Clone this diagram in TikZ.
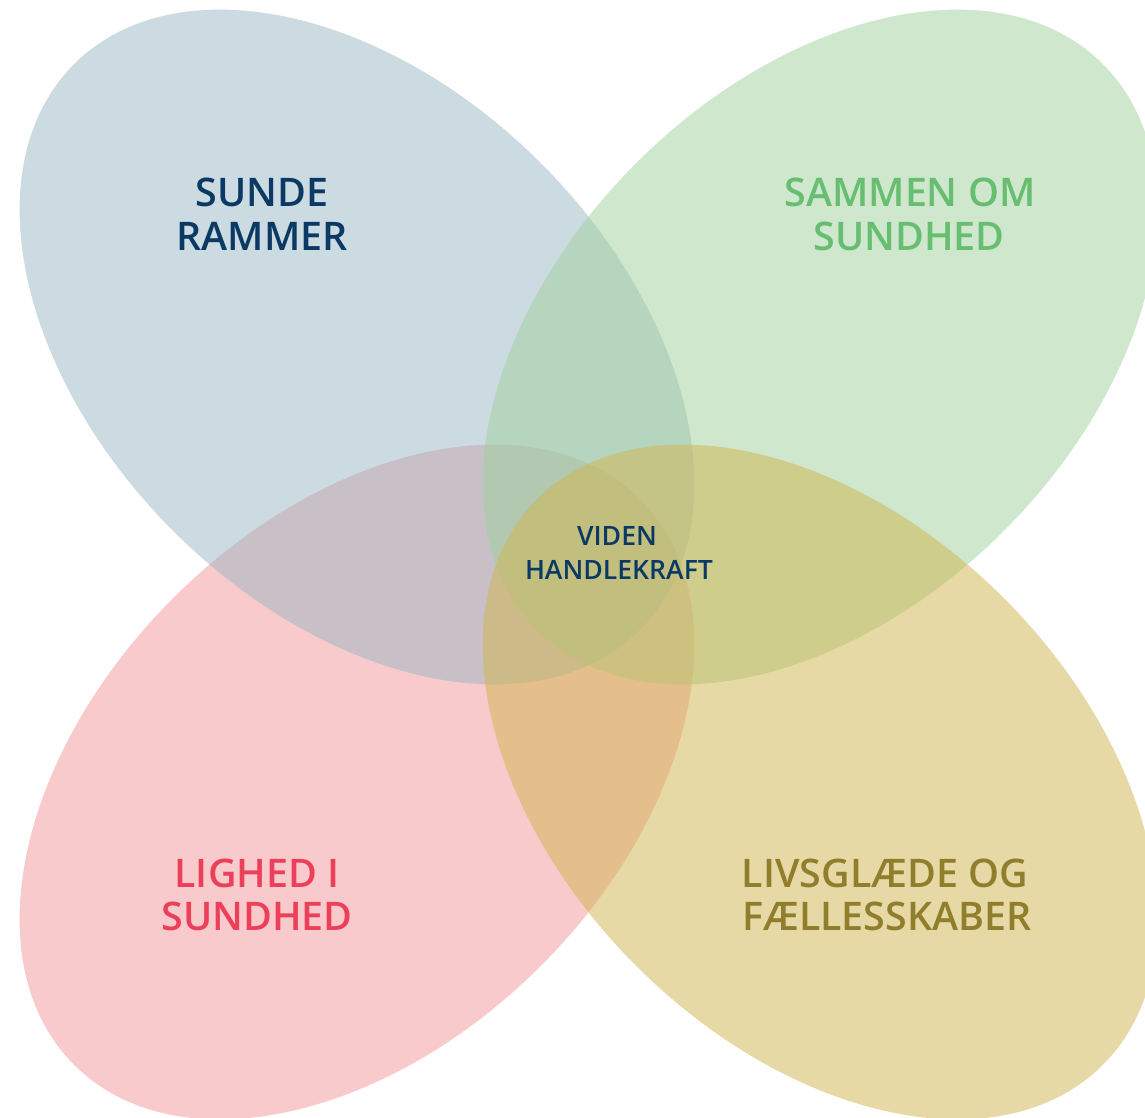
\documentclass[tikz,border=0pt]{standalone}
\usepackage{fontspec}
\IfFontExistsTF{Open Sans SemiBold}
  {\newfontfamily\lblfamily{Open Sans SemiBold}\newcommand\lblfont{\lblfamily}}
  {\IfFontExistsTF{Open Sans Semibold}
    {\newfontfamily\lblfamily{Open Sans Semibold}\newcommand\lblfont{\lblfamily}}
    {\IfFontExistsTF{OpenSans-SemiBold}
      {\newfontfamily\lblfamily{OpenSans-SemiBold}\newcommand\lblfont{\lblfamily}}
      {\newfontfamily\lblfamily{Open Sans}\newcommand\lblfont{\lblfamily\bfseries}}}}
\definecolor{tlfill}{RGB}{155,183,197}
\definecolor{trfill}{RGB}{159,209,157}
\definecolor{blfill}{RGB}{245,151,153}
\definecolor{brfill}{RGB}{209,181,77}
\definecolor{navytext}{RGB}{10,58,100}
\definecolor{greentext}{RGB}{104,190,112}
\definecolor{redtext}{RGB}{236,64,90}
\definecolor{olivetext}{RGB}{144,126,44}
\begin{document}
\begin{tikzpicture}[x=1pt,y=-1pt,
  petal/.style={fill opacity=0.5},
  biglbl/.style={inner sep=0pt, anchor=base, font=\lblfont\fontsize{39.4}{44}\selectfont},
  smalllbl/.style={inner sep=0pt, anchor=base, font=\lblfont\fontsize{26.6}{30}\selectfont}]
\useasboundingbox (0,0) rectangle (1145,1118);
\clip (0,0) rectangle (1145,1118);
\fill[white] (0,0) rectangle (1145,1118);
% petals
\fill[blfill, petal, shift={(357,782)}, rotate=45] (0,0) ellipse [x radius=400, y radius=260];
\fill[tlfill, petal, shift={(357,347)}, rotate=-45] (0,0) ellipse [x radius=400, y radius=260];
\fill[trfill, petal, shift={(820,347)}, rotate=45] (0,0) ellipse [x radius=400, y radius=260];
\fill[brfill, petal, shift={(820,782)}, rotate=-45] (0,0) ellipse [x radius=400, y radius=260];
% labels
\node[biglbl, text=navytext] (sunde1) at (262,207) {SUNDE};
\node[biglbl, text=navytext] (sunde2) at (262,250) {RAMMER};
\node[biglbl, text=greentext] (sammen1) at (910,207) {SAMMEN OM};
\node[biglbl, text=greentext] (sammen2) at (909,250) {SUNDHED};
\node[biglbl, text=redtext] (lighed1) at (257,887) {LIGHED I};
\node[biglbl, text=redtext] (lighed2) at (257,930) {SUNDHED};
\node[biglbl, text=olivetext] (livs1) at (885,887) {LIVSGLÆDE OG};
\node[biglbl, text=olivetext] (livs2) at (887,930) {FÆLLESSKABER};
\node[smalllbl, text=navytext] (viden1) at (617,545) {VIDEN};
\node[smalllbl, text=navytext] (viden2) at (619,579) {HANDLEKRAFT};
\end{tikzpicture}
\end{document}
